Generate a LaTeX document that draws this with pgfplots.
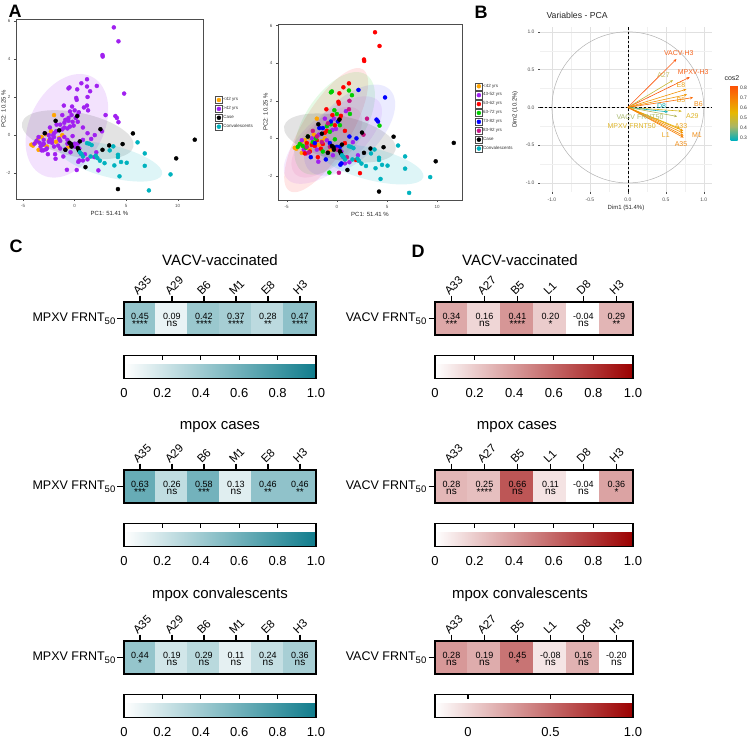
\documentclass[border=0pt]{standalone}
\usepackage{fontspec}
\setmainfont{Liberation Sans}
\usepackage{pgfplots}
\pgfplotsset{compat=1.18}
\usepackage{pgfplotstable}
\usetikzlibrary{arrows.meta}
\pgfkeys{/pgf/number format/assume math mode=true}

\definecolor{ageO}{RGB}{255,165,0}
\definecolor{ageP}{RGB}{160,32,240}
\definecolor{ageR}{RGB}{255,0,0}
\definecolor{ageG}{RGB}{0,205,0}
\definecolor{ageB}{RGB}{0,0,255}
\definecolor{ageM}{RGB}{199,21,133}
\definecolor{grpT}{RGB}{0,178,190}
\definecolor{axgray}{RGB}{77,77,77}
% label colours of the variable plot (cos2 scale)
\definecolor{cRed}{RGB}{246,100,30}
\definecolor{cOr}{RGB}{240,140,20}
\definecolor{cOy}{RGB}{236,165,30}
\definecolor{cYel}{RGB}{222,180,40}
\definecolor{cKha}{RGB}{195,188,100}
\definecolor{cOli}{RGB}{170,185,110}
\definecolor{cTeal}{RGB}{20,175,185}

\pgfplotsset{
  colormap={tealmap}{rgb255=(255,255,255) rgb255=(16,124,140)},
  colormap={redmap}{rgb255=(255,255,255) rgb255=(155,0,0)},
  colormap={cosmap}{rgb255=(0,175,187) rgb255=(170,182,100) rgb255=(231,184,0) rgb255=(246,130,4) rgb255=(252,78,7)},
}

% ---------------- PCA scores by group ----------------
\pgfplotstableread{
x y
-4.05 -0.55
-3.50 -0.77
-2.00 1.05
-3.20 -0.10
-2.80 0.05
-2.50 -0.30
-3.80 -0.40
-1.80 -0.35
-0.60 -0.60
-2.30 0.20
-3.00 -0.50
-1.50 -0.15
-2.70 -0.60
-3.60 -0.25
-1.20 0.00
-4.20 -0.50
}\tO
\pgfplotstableread{
x y
-1.20 1.05
-0.45 0.45
-0.10 0.50
0.60 -0.98
0.80 -1.33
1.25 -1.27
-1.85 -1.24
-3.05 -0.80
-3.50 -0.10
-2.50 0.00
-1.80 0.20
-0.30 1.05
0.90 1.45
-3.30 -0.60
-2.00 -0.60
0.45 -0.70
1.60 -0.20
-1.00 -0.10
2.10 -0.90
-0.40 -0.90
}\tP
\pgfplotstableread{
x y
3.80 5.65
4.25 4.92
2.70 4.20
2.72 4.12
1.20 2.93
0.65 2.72
0.25 2.40
0.15 1.95
0.20 1.85
-1.05 1.55
-0.45 1.24
0.40 1.20
0.30 1.05
-0.20 0.70
0.80 0.40
-1.20 0.30
-2.00 -0.10
-2.50 -0.35
-3.00 -0.25
-2.20 -0.40
-1.60 -0.55
-2.70 -0.70
-3.20 -0.80
-1.90 -1.00
-0.90 -0.75
1.90 -1.15
2.30 -1.85
-1.00 0.40
0.80 -0.25
-1.40 -0.30
}\tR
\pgfplotstableread{
x y
-0.60 2.45
-0.50 2.50
1.20 2.55
1.50 2.30
-0.25 1.50
0.00 1.30
1.30 1.30
4.25 0.68
-0.60 0.75
-1.00 0.65
-2.90 0.10
-3.40 -0.40
-3.70 -0.30
-3.90 -0.45
-2.10 0.00
-0.70 0.35
0.30 0.70
-0.75 -1.82
-1.40 -0.70
-0.20 -0.05
-3.10 -0.50
-2.40 -0.20
}\tG
\pgfplotstableread{
x y
2.15 2.58
4.80 2.18
3.95 1.00
4.10 0.90
0.10 0.90
1.25 0.10
1.95 0.00
0.30 -0.45
0.45 -1.33
0.35 -1.40
-1.75 0.55
-1.40 0.55
-0.70 -0.25
-2.20 -0.25
-1.10 -1.12
0.00 -0.45
-2.60 -1.00
-0.60 0.90
}\tB
\pgfplotstableread{
x y
1.20 1.55
3.00 1.05
2.65 0.20
0.20 -1.83
1.25 2.00
-0.90 0.80
-2.00 0.10
-0.70 -0.45
-2.80 -0.75
-3.00 -0.45
0.00 -0.60
1.00 -1.00
-1.50 -0.20
-2.40 0.40
}\tM
\pgfplotstableread{
x y
-1.85 0.75
0.25 1.00
-2.90 0.10
-1.50 0.25
-0.35 -0.47
-0.30 -0.60
0.30 -0.68
0.50 -0.33
2.50 0.31
2.70 -0.77
3.35 -0.54
4.65 -0.47
5.65 0.09
11.65 -0.24
9.85 -1.22
1.05 -1.68
4.20 -2.83
-0.90 -0.77
-0.50 -0.40
0.40 -0.80
}\tCase
\pgfplotstableread{
x y
1.20 -0.42
1.65 -0.52
0.65 -0.98
0.80 -1.12
1.55 -1.12
2.05 -1.08
2.45 -1.34
2.90 -1.47
3.75 -0.59
4.20 -1.03
4.20 -1.15
3.85 -1.59
4.50 -1.41
5.05 -1.45
6.10 -0.38
6.80 -0.96
6.80 -1.61
4.35 -2.16
9.30 -2.06
7.20 -2.90
1.40 -0.45
0.50 -0.90
2.20 -1.20
3.40 -0.80
}\tConv

% ---------------- variable loadings (Dim1, Dim2, cos2) ----------------
\pgfplotstableread{
x y u v c
0 0 0.640 0.640 0.82
0 0 0.815 0.400 0.82
0 0 0.595 0.360 0.48
0 0 0.770 0.240 0.65
0 0 0.780 0.170 0.64
0 0 0.860 0.130 0.76
0 0 0.710 -0.050 0.51
0 0 0.530 -0.060 0.29
0 0 0.650 -0.120 0.44
0 0 0.690 -0.280 0.55
0 0 0.730 -0.310 0.63
0 0 0.730 -0.340 0.65
0 0 0.735 -0.375 0.68
0 0 0.735 -0.400 0.70
}\tLoad

% ---------------- correlation heatmaps ----------------
\pgfplotstableread{
x r s
0 0.45 ****
1 0.09 ns
2 0.42 ****
3 0.37 ****
4 0.28 **
5 0.47 ****
}\cVac
\pgfplotstableread{
x r s
0 0.63 ***
1 0.26 ns
2 0.58 ***
3 0.13 ns
4 0.46 **
5 0.46 **
}\cCase
\pgfplotstableread{
x r s
0 0.44 *
1 0.19 ns
2 0.29 ns
3 0.11 ns
4 0.24 ns
5 0.36 ns
}\cConv
\pgfplotstableread{
x r s
0 0.34 ***
1 0.16 ns
2 0.41 ****
3 0.20 *
4 -0.04 ns
5 0.29 **
}\dVac
\pgfplotstableread{
x r s
0 0.28 ns
1 0.25 ****
2 0.66 ns
3 0.11 ns
4 -0.04 ns
5 0.36 *
}\dCase
\pgfplotstableread{
x r s
0 0.28 ns
1 0.19 ns
2 0.45 *
3 -0.08 ns
4 0.16 ns
5 -0.20 ns
}\dConv

% significance marks: stars sit a little lower than the text line
\def\nsword{ns}
\newcommand{\sigfmt}[1]{\edef\sigtmp{#1}\ifx\sigtmp\nsword ns\else\raisebox{-2.5pt}{\sigtmp}\fi}

\pgfplotsset{
  pca/.style={
    scale only axis,
    xtick={-5,0,5,10}, ytick={-2,0,2,4,6},
    tick label style={font=\fontsize{4.5}{5}\selectfont, text=axgray},
    label style={font=\fontsize{6}{6}\selectfont, text=black!85},
    axis line style={axgray, line width=0.5pt},
    tick style={axgray, line width=0.4pt},
    major tick length=2pt, tick align=outside,
    xtick pos=left, ytick pos=left,
    xlabel={PC1: 51.41 \%}, ylabel={PC2: 10.25 \%},
    xlabel style={yshift=3pt}, ylabel style={yshift=-6pt},
    legend cell align=left,
    legend style={draw=none, fill=none, font=\fontsize{4.5}{5}\selectfont, text=black!80,
      nodes={inner sep=0.6pt}, row sep=1.4pt, anchor=north west},
    legend image code/.code={
      \draw[axgray, line width=0.3pt, fill=white] (0pt,-3.6pt) rectangle (7.2pt,3.6pt);
      \draw[#1] plot coordinates {(3.6pt,0pt)};
    },
  },
  pts/.style={only marks, mark=*, mark size=2pt, color=#1, mark options={draw=none, fill=#1}},
  hm/.style={
    scale only axis, height=33pt,
    xmin=-0.5, xmax=5.5, ymin=-0.5, ymax=0.5,
    axis on top, clip marker paths=true,
    axis line style={line width=1.5pt},
    xtick={0,1,2,3,4,5}, ytick={0},
    xtick pos=right, xticklabel pos=right, ytick pos=left,
    tick align=outside, major tick length=6.5pt,
    tick style={line width=1.4pt, black},
    xticklabel style={rotate=45, anchor=south west, inner sep=1pt, xshift=-3pt,
      font=\fontsize{11.5}{12}\selectfont},
    yticklabel style={font=\fontsize{12.5}{13}\selectfont, inner sep=2pt},
    point meta min=0, point meta max=1,
    colorbar horizontal,
    colorbar style={at={(parent axis.south west)}, anchor=north west, yshift=-12pt,
      scale only axis, height=23pt, axis line style={line width=1.5pt},
      xtick={0,0.2,0.4,0.6,0.8,1}, xticklabels={0,0.2,0.4,0.6,0.8,1.0},
      xtick pos=right, xticklabel pos=left, tick align=inside,
      major tick length=4.5pt, tick style={line width=1.3pt, black},
      xticklabel style={font=\fontsize{13}{13}\selectfont, yshift=-6pt},
      ytick=\empty},
  },
  % coloured cells
  cell/.style={scatter, only marks, mark=square*, mark size=17pt,
    scatter/use mapped color={draw=mapped color, fill=mapped color},
    point meta=explicit},
  % r value printed in each cell
  cellval/.style={only marks, mark=none, point meta=explicit,
    nodes near coords={\pgfmathprintnumber[fixed,fixed zerofill,precision=2]{\pgfplotspointmeta}},
    every node near coord/.append style={anchor=center,
      font=\fontsize{9}{9}\selectfont, text=black, inner sep=0pt, yshift=2.5pt}},
  % significance printed under the r value
  cellsig/.style={only marks, mark=none, point meta=explicit symbolic,
    nodes near coords={\sigfmt{\pgfplotspointmeta}},
    every node near coord/.append style={anchor=center,
      font=\fontsize{10}{10}\selectfont, text=black, inner sep=0pt, yshift=-5.5pt}},
}

\newcommand{\rowlab}[1]{#1 FRNT\raisebox{-0.45ex}{\fontsize{9.5}{10}\selectfont 50}}
\newcommand{\heatrow}[1]{%
  \addplot[cell] table[x=x, y expr=0, meta=r] {#1};
  \addplot[cellval] table[x=x, y expr=0, meta=r] {#1};
  \addplot[cellsig] table[x=x, y expr=0, meta=s] {#1};}

\begin{document}
\begin{tikzpicture}
\useasboundingbox (0,0) rectangle (748pt,-741pt);

% ================= A: scores, two age groupings =================
\begin{axis}[pca, at={(16pt,-199pt)}, anchor=south west, width=187pt, height=180pt,
  xmin=-5.69, xmax=12.45, ymin=-3.35, ymax=6.09,
  legend style={at={(1.048,0.583)}}]
\fill[ageP, opacity=0.13, rotate around={63:(axis cs:-0.75,0.49)}] (axis cs:-0.75,0.49) ellipse [x radius=55pt, y radius=37pt];
\fill[black, opacity=0.11, rotate around={-12:(axis cs:0.3,0.02)}] (axis cs:0.3,0.02) ellipse [x radius=57pt, y radius=22pt];
\fill[grpT, opacity=0.13, rotate around={-14:(axis cs:3.5,-1.38)}] (axis cs:3.5,-1.38) ellipse [x radius=53pt, y radius=16pt];
\addplot[pts=ageO] table {\tO}; \addlegendentry{<42 yrs}
\addplot[pts=ageP] table {\tP}; \addlegendentry{>42 yrs}
\addplot[pts=ageP, forget plot] table {\tR};
\addplot[pts=ageP, forget plot] table {\tG};
\addplot[pts=ageP, forget plot] table {\tB};
\addplot[pts=ageP, forget plot] table {\tM};
\addplot[pts=black] table {\tCase}; \addlegendentry{Case}
\addplot[pts=grpT] table {\tConv}; \addlegendentry{Convalescents}
\end{axis}

\begin{axis}[pca, at={(278pt,-200pt)}, anchor=south west, width=184pt, height=176pt,
  xmin=-5.87, xmax=12.47, ymin=-3.28, ymax=6.09,
  legend style={at={(1.054,0.68)}}]
\fill[ageR, opacity=0.10, rotate around={59:(axis cs:-1.07,0.44)}] (axis cs:-1.07,0.44) ellipse [x radius=71pt, y radius=24pt];
\fill[ageG, opacity=0.10, rotate around={57:(axis cs:-0.23,0.8)}] (axis cs:-0.23,0.8) ellipse [x radius=58pt, y radius=30pt];
\fill[ageB, opacity=0.08, rotate around={45:(axis cs:1.27,0.44)}] (axis cs:1.27,0.44) ellipse [x radius=57pt, y radius=30pt];
\fill[ageP, opacity=0.09, rotate around={40:(axis cs:-0.4,-0.09)}] (axis cs:-0.4,-0.09) ellipse [x radius=60pt, y radius=27pt];
\fill[ageM, opacity=0.07, rotate around={45:(axis cs:-1.0,-0.2)}] (axis cs:-1.0,-0.2) ellipse [x radius=45pt, y radius=22pt];
\fill[black, opacity=0.11, rotate around={-12:(axis cs:0.3,0.02)}] (axis cs:0.3,0.02) ellipse [x radius=57pt, y radius=22pt];
\fill[grpT, opacity=0.13, rotate around={-14:(axis cs:3.5,-1.38)}] (axis cs:3.5,-1.38) ellipse [x radius=53pt, y radius=16pt];
\addplot[pts=ageO] table {\tO}; \addlegendentry{<42 yrs}
\addplot[pts=ageP] table {\tP}; \addlegendentry{43-52 yrs}
\addplot[pts=ageR] table {\tR}; \addlegendentry{53-62 yrs}
\addplot[pts=ageG] table {\tG}; \addlegendentry{63-72 yrs}
\addplot[pts=ageB] table {\tB}; \addlegendentry{73-82 yrs}
\addplot[pts=ageM] table {\tM}; \addlegendentry{83-92 yrs}
\addplot[pts=black] table {\tCase}; \addlegendentry{Case}
\addplot[pts=grpT] table {\tConv}; \addlegendentry{Convalescents}
\end{axis}

% ================= B: variables on the correlation circle =================
\begin{axis}[at={(540pt,-192pt)}, anchor=south west, scale only axis, width=172pt, height=165pt,
  xmin=-1.157, xmax=1.108, ymin=-1.12, ymax=1.064,
  axis line style={draw=none},
  xtick={-1,-0.5,0,0.5,1}, ytick={-1,-0.5,0,0.5,1},
  xticklabels={-1.0,-0.5,0.0,0.5,1.0}, yticklabels={-1.0,-0.5,0.0,0.5,1.0},
  minor xtick={-0.75,-0.25,0.25,0.75}, minor ytick={-0.75,-0.25,0.25,0.75},
  grid=both, major grid style={black!12, line width=0.5pt}, minor grid style={black!6, line width=0.4pt},
  tick style={axgray, line width=0.4pt}, major tick length=2pt, minor tick length=0pt,
  tick align=outside, xtick pos=left, ytick pos=left,
  tick label style={font=\fontsize{5}{5}\selectfont, text=axgray},
  xlabel={Dim1 (51.4\%)}, ylabel={Dim2 (10.2\%)},
  label style={font=\fontsize{6}{6}\selectfont, text=black!85},
  xlabel style={yshift=3pt}, ylabel style={yshift=1pt},
  colormap name=cosmap, point meta min=0.28, point meta max=0.83,
  colorbar,
  colorbar style={at={(parent axis.north east)}, anchor=north west, xshift=10pt, yshift=-58pt,
    scale only axis, width=7pt, height=55pt, axis line style={draw=none},
    ytick={0.3,0.4,0.5,0.6,0.7,0.8}, yticklabels={0.3,0.4,0.5,0.6,0.7,0.8},
    major tick length=0pt, yticklabel style={font=\fontsize{5}{5}\selectfont, text=black!80, xshift=-1pt}},
  clip=false]
\draw[black!30, line width=0.5pt] (axis cs:0,0) ellipse [x radius=1, y radius=1];
\draw[black, line width=0.6pt, dash pattern=on 2.5pt off 2pt] (axis cs:0,-1.12) -- (axis cs:0,1.064);
\draw[black, line width=0.6pt, dash pattern=on 2.5pt off 2pt] (axis cs:-1.157,0) -- (axis cs:1.108,0);
\addplot[mark=none, point meta=\thisrow{c},
  quiver={u=\thisrow{u}, v=\thisrow{v}, colored=mapped color,
    every arrow/.append style={-{Stealth[length=3.2pt,width=2.6pt]}, line width=0.6pt}}]
  table[x=x, y=y] {\tLoad};
\begin{scope}[font=\fontsize{7}{7}\selectfont]
\node[text=cRed] at (axis cs:0.67,0.72) {VACV-H3};
\node[text=cRed] at (axis cs:0.86,0.47) {MPXV-H3};
\node[text=cKha] at (axis cs:0.47,0.43) {A27};
\node[text=cOy] at (axis cs:0.70,0.30) {E8};
\node[text=cOy] at (axis cs:0.70,0.09) {B5};
\node[text=cOr] at (axis cs:0.93,0.05) {B6};
\node[text=cTeal] at (axis cs:0.445,0.02) {D8};
\node[text=cYel] at (axis cs:0.85,-0.115) {A29};
\node[text=cOli] at (axis cs:0.16,-0.125) {VACV FRNT50};
\node[text=cYel] at (axis cs:0.05,-0.25) {MPXV FRNT50};
\node[text=cOy] at (axis cs:0.70,-0.245) {A33};
\node[text=cOy] at (axis cs:0.50,-0.37) {L1};
\node[text=cOr] at (axis cs:0.91,-0.37) {M1};
\node[text=cOr] at (axis cs:0.70,-0.49) {A35};
\end{scope}
\end{axis}
\node[anchor=west, font=\fontsize{8.7}{9}\selectfont, text=black!85] at (543pt,-15pt) {Variables - PCA};
\node[anchor=west, font=\fontsize{7}{7}\selectfont, text=black!85] at (721pt,-78pt) {cos2};

% ================= C: MPXV FRNT50 correlations =================
\begin{axis}[hm, at={(124pt,-335pt)}, anchor=south west, width=192pt, colormap name=tealmap,
  yticklabels={\rowlab{MPXV}}, xticklabels={A35,A29,B6,M1,E8,H3}, colorbar style={width=192pt}]
\heatrow{\cVac}
\end{axis}
\begin{axis}[hm, at={(124pt,-503pt)}, anchor=south west, width=192pt, colormap name=tealmap,
  yticklabels={\rowlab{MPXV}}, xticklabels={A35,A29,B6,M1,E8,H3}, colorbar style={width=192pt}]
\heatrow{\cCase}
\end{axis}
\begin{axis}[hm, at={(124pt,-674pt)}, anchor=south west, width=192pt, colormap name=tealmap,
  yticklabels={\rowlab{MPXV}}, xticklabels={A35,A29,B6,M1,E8,H3}, colorbar style={width=192pt}]
\heatrow{\cConv}
\end{axis}

% ================= D: VACV FRNT50 correlations =================
\begin{axis}[hm, at={(435pt,-335pt)}, anchor=south west, width=198pt, colormap name=redmap,
  yticklabels={\rowlab{VACV}}, xticklabels={A33,A27,B5,L1,D8,H3}, colorbar style={width=198pt}]
\heatrow{\dVac}
\end{axis}
\begin{axis}[hm, at={(435pt,-503pt)}, anchor=south west, width=198pt, colormap name=redmap,
  yticklabels={\rowlab{VACV}}, xticklabels={A33,A27,B5,L1,D8,H3}, colorbar style={width=198pt}]
\heatrow{\dCase}
\end{axis}
\begin{axis}[hm, at={(435pt,-674pt)}, anchor=south west, width=198pt, colormap name=redmap,
  point meta min=-0.2, point meta max=1,
  yticklabels={\rowlab{VACV}}, xticklabels={A33,A27,B5,L1,D8,H3},
  colorbar style={width=198pt, xtick={0,0.5,1}, xticklabels={0,0.5,1.0}}]
\heatrow{\dConv}
\end{axis}

% ================= titles and panel letters =================
\begin{scope}[font=\fontsize{15}{15}\selectfont]
\node at (220pt,-260pt) {VACV-vaccinated};
\node at (220pt,-427pt) {mpox cases};
\node at (220pt,-595pt) {mpox convalescents};
\node at (520pt,-260pt) {VACV-vaccinated};
\node at (517pt,-427pt) {mpox cases};
\node at (520pt,-595pt) {mpox convalescents};
\end{scope}
\begin{scope}[font=\bfseries\fontsize{18}{18}\selectfont]
\node at (15pt,-11pt) {A};
\node at (481pt,-12pt) {B};
\node at (16pt,-246pt) {C};
\node at (418pt,-251pt) {D};
\end{scope}
\end{tikzpicture}
\end{document}
